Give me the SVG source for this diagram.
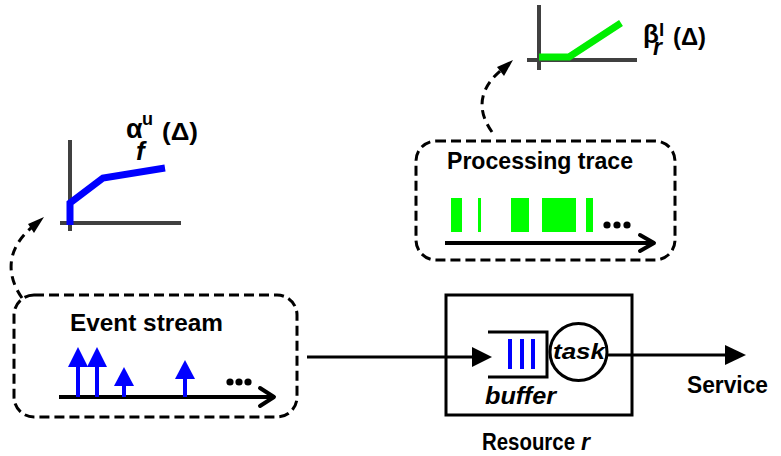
<svg xmlns="http://www.w3.org/2000/svg" width="781" height="456" viewBox="0 0 781 456">
<defs>
<style>
.lbl{font-family:"Liberation Sans",Arial,sans-serif;font-weight:bold;fill:#000}
.it{font-style:italic}
.dbox{fill:none;stroke:#000;stroke-width:3;stroke-dasharray:10 5}
.dcon{fill:none;stroke:#000;stroke-width:3;stroke-dasharray:9 6}
.axis{stroke:#404040;stroke-width:4;fill:none}
.tl{stroke:#000;stroke-width:4;fill:none}
.chev{stroke:#000;stroke-width:4;fill:none;stroke-linecap:round;stroke-linejoin:round}
.ev{stroke:#0000ff;stroke-width:4}
.evh{fill:#0000ff}
.gb{fill:#00ff00}
.dot{fill:#000}
</style>
</defs>

<g id="alpha-graph">
<line class="axis" x1="70" y1="140" x2="70" y2="231"/>
<line class="axis" x1="60" y1="223" x2="181" y2="223"/>
<polyline points="70,225 70,203 103,178 165,168" fill="none" stroke="#0000ff" stroke-width="7"/>
<text class="lbl" x="126" y="138" font-size="27">α</text>
<text class="lbl" x="142" y="125" font-size="18">u</text>
<text class="lbl it" x="136" y="160" font-size="26">f</text>
<text class="lbl" x="162" y="140" font-size="23" textLength="36" lengthAdjust="spacingAndGlyphs">(Δ)</text>
</g>

<g id="beta-graph">
<line class="axis" x1="539" y1="5" x2="539" y2="70"/>
<line class="axis" x1="527" y1="60" x2="637" y2="60"/>
<polyline points="539,57 569,57 621,23" fill="none" stroke="#00ee00" stroke-width="7"/>
<text class="lbl" x="643" y="43" font-size="26">β</text>
<text class="lbl" x="659" y="36" font-size="19">l</text>
<text class="lbl it" x="653" y="55" font-size="23">r</text>
<text class="lbl" x="673" y="45" font-size="23" textLength="33" lengthAdjust="spacingAndGlyphs">(Δ)</text>
</g>

<g id="event-stream">
<rect class="dbox" x="14" y="295" width="283" height="122" rx="20" ry="20"/>
<text class="lbl" x="70" y="331" font-size="24" textLength="153" lengthAdjust="spacingAndGlyphs">Event stream</text>
<line class="tl" x1="59" y1="397" x2="273" y2="397"/>
<polyline class="chev" points="260,388 274,397 260,406"/>
<line class="ev" x1="78" y1="360" x2="78" y2="397"/>
<polygon class="evh" points="68,367 78,347 88,367"/>
<line class="ev" x1="97" y1="360" x2="97" y2="397"/>
<polygon class="evh" points="87,367 97,347 107,367"/>
<line class="ev" x1="124" y1="380" x2="124" y2="397"/>
<polygon class="evh" points="114,386 124,367 134,386"/>
<line class="ev" x1="185" y1="373" x2="185" y2="397"/>
<polygon class="evh" points="175,379 185,360 195,379"/>
<circle class="dot" cx="230" cy="382" r="3.6"/>
<circle class="dot" cx="239" cy="382" r="3.6"/>
<circle class="dot" cx="248" cy="382" r="3.6"/>
</g>

<g id="processing-trace">
<rect class="dbox" x="416" y="141" width="259" height="119" rx="20" ry="20"/>
<text class="lbl" x="447" y="169" font-size="24" textLength="186" lengthAdjust="spacingAndGlyphs">Processing trace</text>
<rect class="gb" x="451" y="198" width="11" height="34"/>
<rect class="gb" x="478" y="198" width="3" height="34"/>
<rect class="gb" x="511" y="198" width="18" height="34"/>
<rect class="gb" x="542" y="198" width="34" height="34"/>
<rect class="gb" x="586" y="198" width="7" height="34"/>
<circle class="dot" cx="607" cy="225" r="3.6"/>
<circle class="dot" cx="617" cy="225" r="3.6"/>
<circle class="dot" cx="627" cy="225" r="3.6"/>
<line class="tl" x1="445" y1="243" x2="653" y2="243"/>
<polyline class="chev" points="640,235 654,243 640,251"/>
</g>

<g id="resource">
<rect x="446" y="295" width="186" height="120" fill="none" stroke="#000" stroke-width="3"/>
<polyline points="488,332 547,332 547,377 488,377" fill="none" stroke="#000" stroke-width="3"/>
<line x1="510" y1="339" x2="510" y2="369" stroke="#0000ff" stroke-width="4"/>
<line x1="522" y1="339" x2="522" y2="369" stroke="#0000ff" stroke-width="4"/>
<line x1="533" y1="339" x2="533" y2="369" stroke="#0000ff" stroke-width="4"/>
<circle cx="578.5" cy="352" r="28.5" fill="none" stroke="#000" stroke-width="3"/>
<text class="lbl it" x="579" y="359" font-size="22" text-anchor="middle" textLength="52" lengthAdjust="spacingAndGlyphs">task</text>
<text class="lbl it" x="485" y="404" font-size="23" textLength="71" lengthAdjust="spacingAndGlyphs">buffer</text>
<text class="lbl" x="482" y="450" font-size="23" textLength="93" lengthAdjust="spacingAndGlyphs">Resource</text>
<text class="lbl it" x="581" y="450" font-size="23">r</text>
</g>

<g id="service">
<text class="lbl" x="687" y="393" font-size="23" textLength="81" lengthAdjust="spacingAndGlyphs">Service</text>
</g>

<g id="connectors">
<line x1="307" y1="357" x2="474" y2="357" stroke="#000" stroke-width="3"/>
<path d="M472,347 L492,357 L472,367 z" fill="#000"/>
<line x1="607" y1="355" x2="728" y2="355" stroke="#000" stroke-width="3"/>
<path d="M725,345 L746,355 L725,365 z" fill="#000"/>
<path class="dcon" d="M22,298 C4,272 8,245 36,224"/>
<path d="M44,217 L34,233 L28,224 z" fill="#000"/>
<path class="dcon" d="M492,132 C475,108 480,86 505,67"/>
<path d="M513,60 L504,76 L497,67 z" fill="#000"/>
</g>
</svg>
